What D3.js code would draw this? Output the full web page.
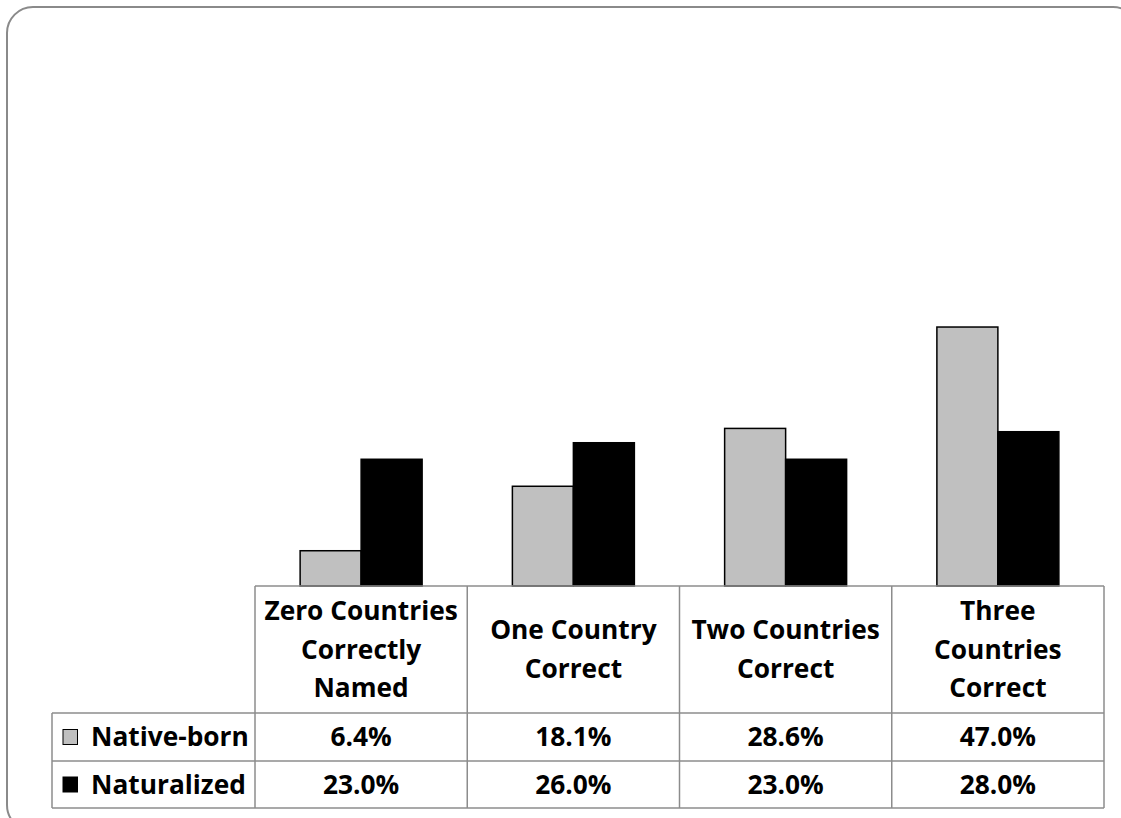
<!DOCTYPE html>
<html><head><meta charset="utf-8">
<script src="https://cdn.jsdelivr.net/npm/d3@7"></script>
<style>html,body{margin:0;padding:0;background:#fff;}svg{display:block;}</style>
</head><body>
<svg id="c" width="1121" height="818"></svg>
<script>
const categories = [["Zero Countries","Correctly","Named"],["One Country","Correct"],["Two Countries","Correct"],["Three","Countries","Correct"]];
const series = ["Native-born","Naturalized"];
const nativeBorn = [6.4, 18.1, 28.6, 47.0];
const naturalized = [23.0, 26.0, 23.0, 28.0];
const valueLabels = [["6.4%","18.1%","28.6%","47.0%"],["23.0%","26.0%","23.0%","28.0%"]];
const colors = ["#C0C0C0","#000000"];

const svg = d3.select("#c");
const FONT = "'Open Sans', sans-serif";

// outer rounded frame
svg.append("rect").attr("x",7).attr("y",7).attr("width",1132).attr("height",824)
  .attr("rx",26).attr("ry",26).attr("fill","none").attr("stroke","#8a8a8a").attr("stroke-width",2);

const tableLeft = 255, tableRight = 1104, baseY = 586;
const hdrBottom = 713, row1Bottom = 761, row2Bottom = 808, labelLeft = 52;

const x0 = d3.scaleBand().domain(d3.range(categories.length)).range([tableLeft, tableRight]).paddingInner(0).paddingOuter(0);
const x1 = d3.scaleBand().domain(series).range([0, x0.bandwidth()]).paddingInner(0).paddingOuter(0.74);
const y = d3.scaleLinear().domain([0,100]).range([baseY, 35]);

const data = [nativeBorn, naturalized];
const g = svg.append("g");
series.forEach((s, si) => {
  g.selectAll(".b"+si).data(data[si]).enter().append("rect")
    .attr("x",(d,i)=>x0(i)+x1(s))
    .attr("y",d=>y(d))
    .attr("width",x1.bandwidth())
    .attr("height",d=>y(0)-y(d))
    .attr("fill",colors[si]).attr("stroke","#000").attr("stroke-width",1.5);
});

// table lines
const lc = "#8c8c8c", lw = 1.5;
const tl = svg.append("g").attr("stroke",lc).attr("stroke-width",lw).attr("fill","none");
tl.append("line").attr("x1",tableLeft).attr("x2",tableRight).attr("y1",baseY).attr("y2",baseY);
tl.append("line").attr("x1",labelLeft).attr("x2",tableRight).attr("y1",hdrBottom).attr("y2",hdrBottom);
tl.append("line").attr("x1",labelLeft).attr("x2",tableRight).attr("y1",row1Bottom).attr("y2",row1Bottom);
tl.append("line").attr("x1",labelLeft).attr("x2",tableRight).attr("y1",row2Bottom).attr("y2",row2Bottom);
tl.append("line").attr("x1",labelLeft).attr("x2",labelLeft).attr("y1",hdrBottom).attr("y2",row2Bottom);
d3.range(categories.length+1).forEach(i=>{
  const xx = i<categories.length ? x0(i) : tableRight;
  tl.append("line").attr("x1",xx).attr("x2",xx).attr("y1",baseY).attr("y2",row2Bottom);
});

// header text
const lineH = 38.5, fs = 26.3;
categories.forEach((lines,i)=>{
  const cx = x0(i)+x0.bandwidth()/2;
  const cy = (baseY+hdrBottom)/2;
  const first = cy - (lines.length-1)*lineH/2;
  lines.forEach((t,k)=>{
    svg.append("text").attr("x",cx).attr("y",first+k*lineH+9)
      .attr("text-anchor","middle").attr("font-family",FONT).attr("font-weight","bold")
      .attr("font-size",fs).attr("fill","#000").text(t);
  });
});

// rows
const rowCenters = [(hdrBottom+row1Bottom)/2, (row1Bottom+row2Bottom)/2];
series.forEach((s,si)=>{
  const cy = rowCenters[si];
  svg.append("rect").attr("x",63).attr("y",cy-7.5).attr("width",14.5).attr("height",15)
    .attr("fill",colors[si]).attr("stroke","#000").attr("stroke-width",1);
  svg.append("text").attr("x",91).attr("y",cy+9).attr("font-family",FONT).attr("font-weight","bold")
    .attr("font-size",fs).attr("fill","#000").text(s);
  valueLabels[si].forEach((v,i)=>{
    svg.append("text").attr("x",x0(i)+x0.bandwidth()/2).attr("y",cy+9)
      .attr("text-anchor","middle").attr("font-family",FONT).attr("font-weight","bold")
      .attr("font-size",fs).attr("fill","#000").text(v);
  });
});
</script>
</body></html>
